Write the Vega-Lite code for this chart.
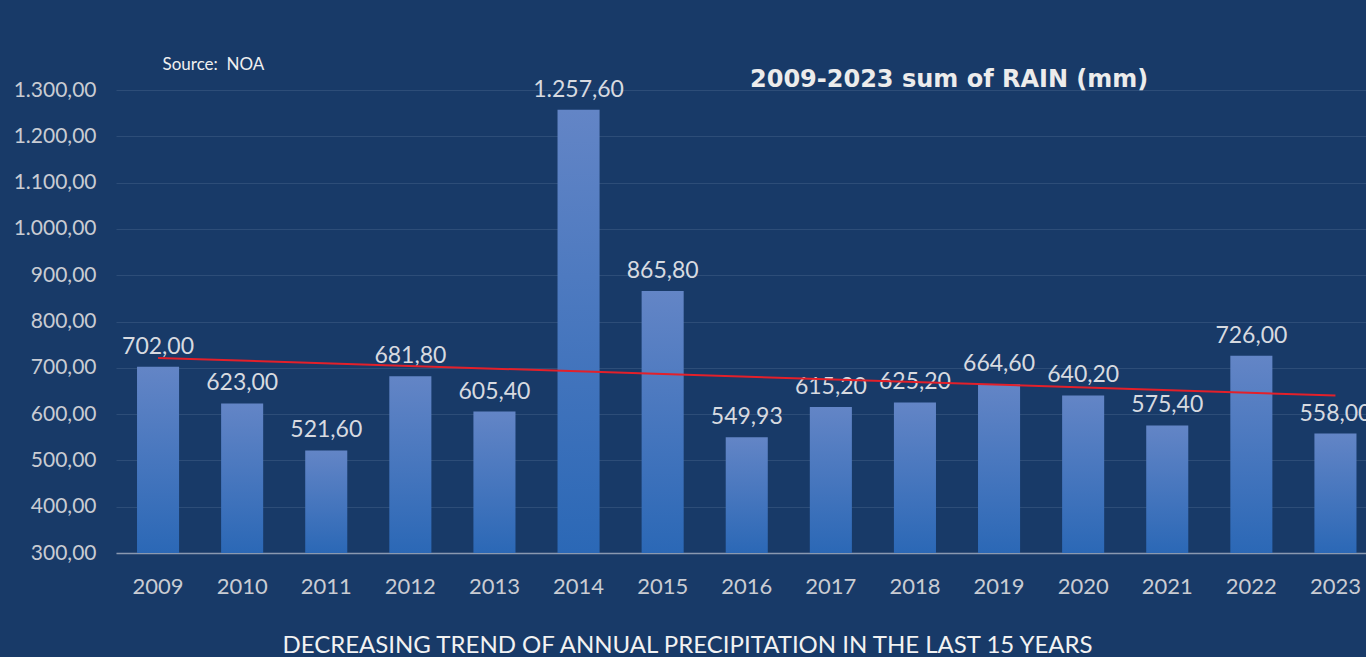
{
  "$schema": "https://vega.github.io/schema/vega-lite/v6.json",
  "width": 1250,
  "height": 463,
  "autosize": {"type": "none"},
  "padding": {"left": 116, "top": 90, "right": 0, "bottom": 104},
  "background": "#183a68",
  "config": {
    "locale": {"number": {"decimal": ",", "thousands": ".", "grouping": [3], "currency": ["", ""]}},
    "view": {"stroke": null},
    "font": "Lato"
  },
  "title": {
    "text": "2009-2023 sum of RAIN (mm)",
    "anchor": "start",
    "frame": "group",
    "dx": 634,
    "dy": 39,
    "font": "DejaVu Sans",
    "fontWeight": "bold",
    "fontSize": 24,
    "color": "#ececec",
    "offset": 2
  },
  "data": {
    "values": [
      {"year": 2009, "rain": 702.0},
      {"year": 2010, "rain": 623.0},
      {"year": 2011, "rain": 521.6},
      {"year": 2012, "rain": 681.8},
      {"year": 2013, "rain": 605.4},
      {"year": 2014, "rain": 1257.6},
      {"year": 2015, "rain": 865.8},
      {"year": 2016, "rain": 549.93},
      {"year": 2017, "rain": 615.2},
      {"year": 2018, "rain": 625.2},
      {"year": 2019, "rain": 664.6},
      {"year": 2020, "rain": 640.2},
      {"year": 2021, "rain": 575.4},
      {"year": 2022, "rain": 726.0},
      {"year": 2023, "rain": 558.0}
    ]
  },
  "encoding": {
    "x": {
      "field": "year",
      "type": "ordinal",
      "scale": {"range": [0, 1261.5], "paddingInner": 0.5, "paddingOuter": 0.25},
      "axis": {
        "labelAngle": 0,
        "labelFontSize": 22,
        "labelColor": "#c9ccd3",
        "ticks": false,
        "domainColor": "#8a99b0",
        "domainWidth": 1.5,
        "labelPadding": 23,
        "title": "DECREASING TREND OF ANNUAL PRECIPITATION IN THE LAST 15 YEARS",
        "titleFontSize": 24,
        "titleFontWeight": "normal",
        "titleColor": "#f2f2f2",
        "titleX": 571,
        "titleY": 92,
        "titleBaseline": "middle",
        "titleAlign": "center"
      }
    }
  },
  "layer": [
    {
      "mark": {
        "type": "bar",
        "color": {
          "gradient": "linear",
          "x1": 0, "y1": 0, "x2": 0, "y2": 1,
          "stops": [
            {"offset": 0, "color": "#6385c6"},
            {"offset": 1, "color": "#2b68b6"}
          ]
        }
      },
      "encoding": {
        "y": {
          "field": "rain",
          "type": "quantitative",
          "scale": {"domain": [300, 1300], "zero": false, "nice": false},
          "axis": {
            "values": [300, 400, 500, 600, 700, 800, 900, 1000, 1100, 1200, 1300],
            "format": ",.2f",
            "domain": false,
            "ticks": false,
            "labelPadding": 20,
            "labelFontSize": 21,
            "labelColor": "#c9ccd3",
            "gridColor": "#2d4d78",
            "gridWidth": 1,
            "title": "Source:\u00a0 NOA",
            "titleAngle": 0,
            "titleX": 46,
            "titleY": -26,
            "titleAlign": "left",
            "titleBaseline": "middle",
            "titleFontWeight": "normal",
            "titleFontSize": 17,
            "titleColor": "#f0f0f0"
          }
        },
        "y2": {"datum": 300}
      }
    },
    {
      "mark": {"type": "text", "fontSize": 23, "color": "#d7dae0", "baseline": "middle", "dy": -20},
      "encoding": {
        "y": {"field": "rain", "type": "quantitative"},
        "text": {"field": "rain", "type": "quantitative", "format": ",.2f"}
      }
    },
    {
      "transform": [{"regression": "rain", "on": "year"}],
      "mark": {"type": "line", "color": "#e3202a", "strokeWidth": 2},
      "encoding": {
        "y": {"field": "rain", "type": "quantitative"}
      }
    }
  ]
}
